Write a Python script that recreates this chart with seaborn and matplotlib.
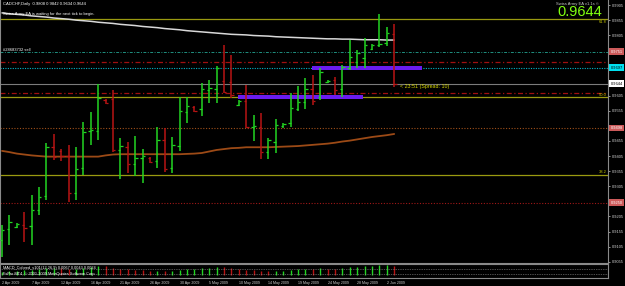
import numpy as np
import matplotlib
matplotlib.use("Agg")
import matplotlib.pyplot as plt
import matplotlib.transforms as mtransforms
from matplotlib.patches import Rectangle
import seaborn as sns
import pandas as pd

# ---------------- data ----------------
title_text = "CADCHF,Daily  0.9808 0.9842 0.9634 0.9644"
date_labels = ["2 Apr 2009", "7 Apr 2009", "12 Apr 2009", "16 Apr 2009", "21 Apr 2009",
               "26 Apr 2009", "30 Apr 2009", "5 May 2009", "10 May 2009", "14 May 2009",
               "19 May 2009", "24 May 2009", "28 May 2009", "2 Jun 2009"]
date_label_bars = [0, 4, 8, 12, 16, 20, 24, 28, 32, 36, 40, 44, 48, 52]

opens = [0.9127, 0.9163, 0.9170, 0.9177, 0.9173, 0.9226, 0.9273, 0.9435, 0.9422, 0.9405,
         0.9283, 0.9365, 0.9488, 0.9488, 0.9591, 0.9594, 0.9425, 0.9435, 0.9379, 0.9399,
         0.9399, 0.9389, 0.9458, 0.9365, 0.9438, 0.9551, 0.9567, 0.9561, 0.9624, 0.9627,
         0.9653, 0.9650, 0.9574, 0.9587, 0.9501, 0.9501, 0.9418, 0.9451, 0.9504, 0.9514,
         0.9561, 0.9584, 0.9627, 0.9600, 0.9650, 0.9657, 0.9627, 0.9697, 0.9716, 0.9730,
         0.9759, 0.9773, 0.9779, 0.9808]
highs = [0.9177, 0.9210, 0.9183, 0.9220, 0.9276, 0.9302, 0.9448, 0.9478, 0.9428, 0.9442,
         0.9435, 0.9518, 0.9551, 0.9644, 0.9594, 0.9624, 0.9465, 0.9451, 0.9471, 0.9428,
         0.9402, 0.9501, 0.9498, 0.9468, 0.9600, 0.9600, 0.9571, 0.9647, 0.9657, 0.9703,
         0.9773, 0.9740, 0.9591, 0.9640, 0.9541, 0.9547, 0.9465, 0.9528, 0.9514, 0.9614,
         0.9637, 0.9663, 0.9673, 0.9697, 0.9657, 0.9667, 0.9706, 0.9789, 0.9756, 0.9796,
         0.9776, 0.9875, 0.9832, 0.9842]
lows = [0.9071, 0.9110, 0.9167, 0.9120, 0.9110, 0.9210, 0.9259, 0.9392, 0.9389, 0.9253,
        0.9259, 0.9342, 0.9442, 0.9458, 0.9577, 0.9418, 0.9329, 0.9349, 0.9339, 0.9316,
        0.9382, 0.9365, 0.9352, 0.9349, 0.9422, 0.9514, 0.9551, 0.9538, 0.9581, 0.9581,
        0.9614, 0.9597, 0.9571, 0.9498, 0.9455, 0.9395, 0.9395, 0.9415, 0.9498, 0.9501,
        0.9554, 0.9561, 0.9574, 0.9591, 0.9647, 0.9607, 0.9600, 0.9690, 0.9697, 0.9697,
        0.9756, 0.9766, 0.9769, 0.9634]
closes = [0.9160, 0.9187, 0.9180, 0.9167, 0.9226, 0.9269, 0.9435, 0.9402, 0.9405, 0.9283,
          0.9362, 0.9485, 0.9491, 0.9597, 0.9581, 0.9425, 0.9438, 0.9379, 0.9399, 0.9405,
          0.9385, 0.9458, 0.9362, 0.9442, 0.9554, 0.9571, 0.9554, 0.9627, 0.9630, 0.9697,
          0.9617, 0.9607, 0.9587, 0.9501, 0.9504, 0.9418, 0.9458, 0.9508, 0.9511, 0.9564,
          0.9584, 0.9627, 0.9587, 0.9683, 0.9653, 0.9624, 0.9700, 0.9733, 0.9746, 0.9773,
          0.9773, 0.9776, 0.9812, 0.9644]
ma_slow = [0.9879, 0.9876, 0.9874, 0.9872, 0.9869, 0.9867, 0.9865, 0.9862, 0.9860, 0.9858,
           0.9855, 0.9853, 0.9851, 0.9848, 0.9846, 0.9844, 0.9841, 0.9839, 0.9837, 0.9834,
           0.9832, 0.9830, 0.9827, 0.9825, 0.9823, 0.9820, 0.9818, 0.9816, 0.9814, 0.9812,
           0.9810, 0.9808, 0.9807, 0.9806, 0.9804, 0.9803, 0.9802, 0.9800, 0.9799, 0.9798,
           0.9797, 0.9796, 0.9795, 0.9794, 0.9793, 0.9793, 0.9792, 0.9792, 0.9791, 0.9790,
           0.9790, 0.9790, 0.9789, 0.9789]
ma_mid = [0.9422, 0.9418, 0.9413, 0.9410, 0.9407, 0.9405, 0.9403, 0.9403, 0.9403, 0.9403,
          0.9403, 0.9403, 0.9403, 0.9403, 0.9407, 0.9410, 0.9411, 0.9411, 0.9411, 0.9411,
          0.9411, 0.9411, 0.9411, 0.9411, 0.9411, 0.9412, 0.9413, 0.9415, 0.9420, 0.9425,
          0.9428, 0.9431, 0.9432, 0.9434, 0.9434, 0.9434, 0.9434, 0.9435, 0.9436, 0.9437,
          0.9438, 0.9440, 0.9442, 0.9444, 0.9446, 0.9449, 0.9453, 0.9456, 0.9460, 0.9464,
          0.9468, 0.9471, 0.9474, 0.9478]
macd_hist = [0.35, 0.40, 0.42, 0.45, 0.50, 0.55, 0.65, 0.70, 0.68, 0.60,
             0.62, 0.70, 0.75, 0.85, 0.82, 0.70, 0.62, 0.55, 0.50, 0.45,
             0.40, 0.42, 0.38, 0.40, 0.50, 0.58, 0.60, 0.66, 0.70, 0.78,
             0.74, 0.68, 0.62, 0.52, 0.45, 0.38, 0.36, 0.40, 0.42, 0.48,
             0.55, 0.60, 0.58, 0.64, 0.63, 0.60, 0.66, 0.74, 0.78, 0.84,
             0.86, 0.92, 0.95, 0.88]

fib_prices = [0.9859, 0.9600, 0.9342]
fib_labels = ["61.8", "50.0", "38.2"]
bid_price = 0.9644
order_open = 0.9751
order_label = "#28683732 sell"
dashdot_red_prices = [0.9716, 0.9614]
cyan_level = 0.9697
brown_level = 0.9498
red_dotted_level = 0.9250
zone_start = [41.9, 31.9]
zone_end = [56.8, 48.8]
zone_low = [0.9690, 0.9594]
zone_high = [0.9703, 0.9607]
yticks_plain = [0.9905, 0.9855, 0.9805, 0.9605, 0.9555, 0.9455, 0.9405, 0.9355,
                0.9305, 0.9205, 0.9155, 0.9105, 0.9055]

# ---------------- style ----------------
sns.set_style("dark", {"axes.facecolor": "black", "figure.facecolor": "black"})
plt.rcParams['font.family'] = ['Liberation Sans', 'DejaVu Sans']

W, H = 625, 286
fig = plt.figure(figsize=(W / 100, H / 100), dpi=100)
fig.patch.set_facecolor("black")

ax = fig.add_axes([0, 23 / H, 608 / W, 263 / H])
axs = fig.add_axes([0, 8 / H, 608 / W, 14 / H])
for a in (ax, axs):
    a.set_facecolor("black")
    a.set_xlim(-0.27, -0.27 + 608 / 7.4)
    for s in a.spines.values():
        s.set_color("#8a8a8a")
        s.set_linewidth(0.8)
ax.spines["top"].set_visible(False)
ax.set_ylim(0.99216 - 263 / 3020, 0.99216)

olive = "#9a9a10"
green = "#22d622"
red = "#b81414"

# horizontal levels
for p in fib_prices:
    ax.axhline(p, color=olive, lw=0.9, zorder=1)
ax.axhline(order_open, color="#1f8f7f", lw=0.7, ls=(0, (3, 1.5, 1, 1.5)), zorder=1)
for p in dashdot_red_prices:
    ax.axhline(p, color="#a01010", lw=0.9, ls=(0, (4, 2, 1, 2)), zorder=1)
ax.axhline(cyan_level, color="#00b4c8", lw=0.8, ls=(0, (1, 1.2)), zorder=1)
ax.axhline(bid_price, color="#7c7c7c", lw=0.8, zorder=1)
ax.axhline(brown_level, color="#a0501a", lw=0.8, ls=(0, (1, 1.5)), zorder=1)
ax.axhline(red_dotted_level, color="#a01818", lw=0.8, ls=(0, (1, 1.5)), zorder=1)

# zones
for s, e, lo, hi in zip(zone_start, zone_end, zone_low, zone_high):
    ax.add_patch(Rectangle((s, lo), e - s, hi - lo, facecolor="#6a1cf0",
                           edgecolor="none", zorder=2))

# moving averages
df = pd.DataFrame({"bar": np.arange(len(closes)), "slow": ma_slow, "mid": ma_mid})
sns.lineplot(data=df, x="bar", y="slow", ax=ax, color="#d8d8d8", lw=1.1, zorder=3)
sns.lineplot(data=df, x="bar", y="mid", ax=ax, color="#9c4a16", lw=1.3, zorder=3)

# OHLC bars
idx = np.arange(len(closes))
o = np.array(opens); c = np.array(closes)
cols = np.where(c >= o, green, red)
ax.vlines(idx, lows, highs, colors=cols, lw=1.1, zorder=4)
ax.hlines(o, idx - 0.32, idx, colors=cols, lw=0.9, zorder=4)
ax.hlines(c, idx, idx + 0.32, colors=cols, lw=0.9, zorder=4)

ax.set_xlabel(""); ax.set_ylabel("")
ax.set_xticks([])
ax.yaxis.tick_right()
ax.set_yticks(yticks_plain)
ax.set_yticklabels([f"{v:.4f}" for v in yticks_plain])
ax.tick_params(axis="y", colors="#d0d0d0", labelsize=2.9, length=1.5, width=0.5,
               pad=1, right=True, left=False)
ax.grid(False)

# axis boxes
trans = mtransforms.blended_transform_factory(ax.transAxes, ax.transData)
for p, fc, tc in [(order_open, "#cc5a5a", "white"), (cyan_level, "#00e0f0", "black"),
                  (bid_price, "white", "black"), (brown_level, "#cc5a5a", "white"),
                  (red_dotted_level, "#cc5a5a", "white")]:
    ax.text(1.004, p, f"{p:.4f}", transform=trans, fontsize=2.9, color=tc,
            ha="left", va="center", zorder=6, clip_on=False,
            bbox=dict(boxstyle="square,pad=0.35", fc=fc, ec="none"))

# fib labels (top one sits just under its line, clear of the big price)
for p, lab in zip(fib_prices, fib_labels):
    if p == max(fib_prices):
        ax.text(0.998, p - 0.0002, lab, transform=trans, fontsize=2.8, color="#c8c800",
                ha="right", va="top", zorder=6)
    else:
        ax.text(0.998, p + 0.0002, lab, transform=trans, fontsize=3, color="#c8c800",
                ha="right", va="bottom", zorder=6)

# texts
ax.text(0.005, 0.985, title_text, transform=ax.transAxes, fontsize=3, color="white",
        ha="left", va="center")
ax.text(0.005, 0.945, "Swiss Army EA is waiting for the next tick to begin.",
        transform=ax.transAxes, fontsize=3, color="white", ha="left", va="center")
ax.text(0.005, order_open + 0.0006, order_label, transform=trans, fontsize=3,
        color="white", ha="left", va="center")
ax.text(53.8, 0.9635, "< 23:51 (Spread: 10)", fontsize=3.8, color="#d8d800",
        ha="left", va="center", zorder=6)
ax.text(0.986, 0.985, "Swiss Army EA v1.1s \u00a9", transform=ax.transAxes,
        fontsize=3, color="#c8c8c8", ha="right", va="center")
ax.text(0.99, 0.955, f"{bid_price:.4f}", transform=ax.transAxes, fontsize=10.5,
        color="#80ff10", ha="right", va="center", zorder=6)

# MACD sub-window
axs.set_ylim(-0.25, 1.05)
h = np.array(macd_hist)
hcols = [green if i == 0 or h[i] >= h[i - 1] else red for i in range(len(h))]
axs.vlines(idx, 0, h, colors=hcols, lw=1.0)
axs.axhline(0.55, color="#9a9a9a", lw=0.5, ls=(0, (1, 1.5)))
axs.axhline(0.15, color="#9a9a9a", lw=0.5, ls=(0, (1, 1.5)))
axs.text(0.005, 0.72, "MACD_Colored_v101(12,26,9) 0.0067 0.0043 0.0024",
         transform=axs.transAxes, fontsize=2.8, color="white", ha="left", va="center")
axs.text(0.005, 0.3, "FxPro MT4, \u00a9 2001-2009 MetaQuotes Software Corp.",
         transform=axs.transAxes, fontsize=2.8, color="white", ha="left", va="center")
axs.set_yticks([])
axs.set_xlabel(""); axs.set_ylabel("")
axs.set_xticks(date_label_bars)
axs.set_xticklabels(date_labels)
for t in axs.get_xticklabels():
    t.set_ha("left")
axs.tick_params(axis="x", colors="#d0d0d0", labelsize=2.6, length=1.5, width=0.5, pad=1.0)
axs.grid(False)

fig.savefig("out.png", dpi=100, facecolor="black")
